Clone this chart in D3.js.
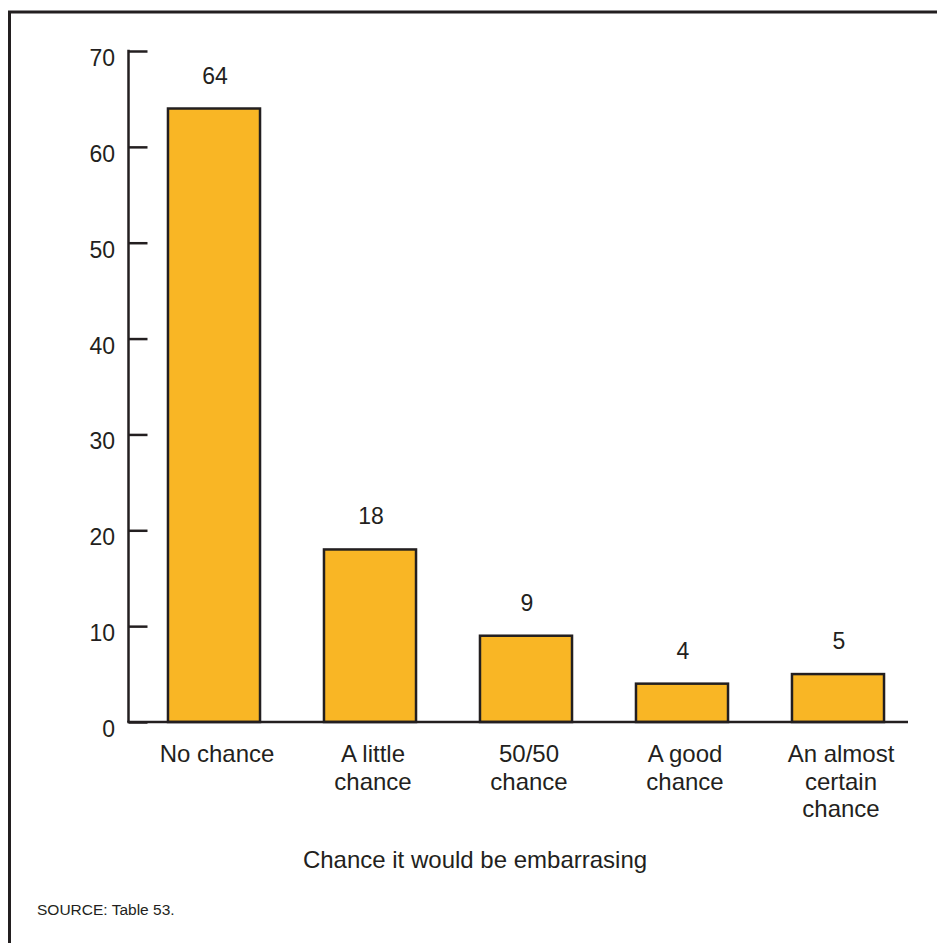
<!DOCTYPE html>
<html>
<head>
<meta charset="utf-8">
<script src="https://cdn.jsdelivr.net/npm/d3@7"></script>
<style>
  html, body { margin: 0; padding: 0; background: #fff; }
  svg { display: block; font-family: "Liberation Sans", Arial, Helvetica, sans-serif; }
</style>
</head>
<body>
<svg id="chart" width="937" height="943"></svg>
<script>
const categories = ["No chance", "A little chance", "50/50 chance", "A good chance", "An almost certain chance"];
const categoryLines = [["No chance"], ["A little", "chance"], ["50/50", "chance"], ["A good", "chance"], ["An almost", "certain", "chance"]];
const values = [64, 18, 9, 4, 5];
const yTicks = [0, 10, 20, 30, 40, 50, 60, 70];
const xTitle = "Chance it would be embarrasing";
const sourceNote = "SOURCE: Table 53.";

const svg = d3.select("#chart");
const ink = "#231f20";
const fill = "#f9b625";

// frame border (extends past the right / bottom edges)
svg.append("rect").attr("x", 9.5).attr("y", 12).attr("width", 1000).attr("height", 1000)
  .attr("fill", "none").attr("stroke", ink).attr("stroke-width", 3);

const x = d3.scaleBand().domain(categories).range([136, 916]).paddingInner(0.41).paddingOuter(0.205);
const y = d3.scaleLinear().domain([0, 70]).range([722, 51]);
const axisX0 = 128.5, axisX1 = 908;

// y axis
const yAxis = svg.append("g").attr("transform", `translate(${axisX0},0)`)
  .call(d3.axisRight(y).tickValues(yTicks).tickSize(19).tickFormat(""));
yAxis.select(".domain").remove();
yAxis.selectAll(".tick line").attr("stroke", ink).attr("stroke-width", 2.5);
svg.append("line").attr("x1", axisX0).attr("x2", axisX0).attr("y1", y(70) - 1.25).attr("y2", y(0))
  .attr("stroke", ink).attr("stroke-width", 2.5);
svg.selectAll(".ylab").data(yTicks).enter().append("text")
  .attr("x", 115).attr("y", d => y(d) + 15)
  .attr("text-anchor", "end").attr("font-size", 23).attr("fill", ink)
  .text(d => d);

// bars
svg.selectAll(".bar").data(values).enter().append("rect")
  .attr("x", (d, i) => x(categories[i]))
  .attr("y", d => y(d))
  .attr("width", x.bandwidth())
  .attr("height", d => y(0) - y(d))
  .attr("fill", fill).attr("stroke", ink).attr("stroke-width", 2.5);

// x axis line
svg.append("line").attr("x1", axisX0 - 1.25).attr("x2", axisX1).attr("y1", y(0)).attr("y2", y(0))
  .attr("stroke", ink).attr("stroke-width", 2.5);

// value labels
svg.selectAll(".vlab").data(values).enter().append("text")
  .attr("x", (d, i) => x(categories[i]) + x.bandwidth() / 2 + 1)
  .attr("y", d => y(d) - 25)
  .attr("text-anchor", "middle").attr("font-size", 23).attr("fill", ink)
  .text(d => d);

// category labels
categoryLines.forEach((lines, i) => {
  const cx = x(categories[i]) + x.bandwidth() / 2 + 3;
  const t = svg.append("text")
    .attr("x", cx).attr("y", 762)
    .attr("text-anchor", "middle").attr("font-size", 24).attr("fill", ink);
  lines.forEach((ln, j) => {
    t.append("tspan").attr("x", cx).attr("y", 762 + j * 27.5).text(ln);
  });
});

// axis title
svg.append("text").attr("x", 475).attr("y", 868).attr("text-anchor", "middle")
  .attr("font-size", 24).attr("fill", ink).text(xTitle);

// source
svg.append("text").attr("x", 37).attr("y", 915).attr("font-size", 15.5).attr("fill", ink).text(sourceNote);
</script>
</body>
</html>
